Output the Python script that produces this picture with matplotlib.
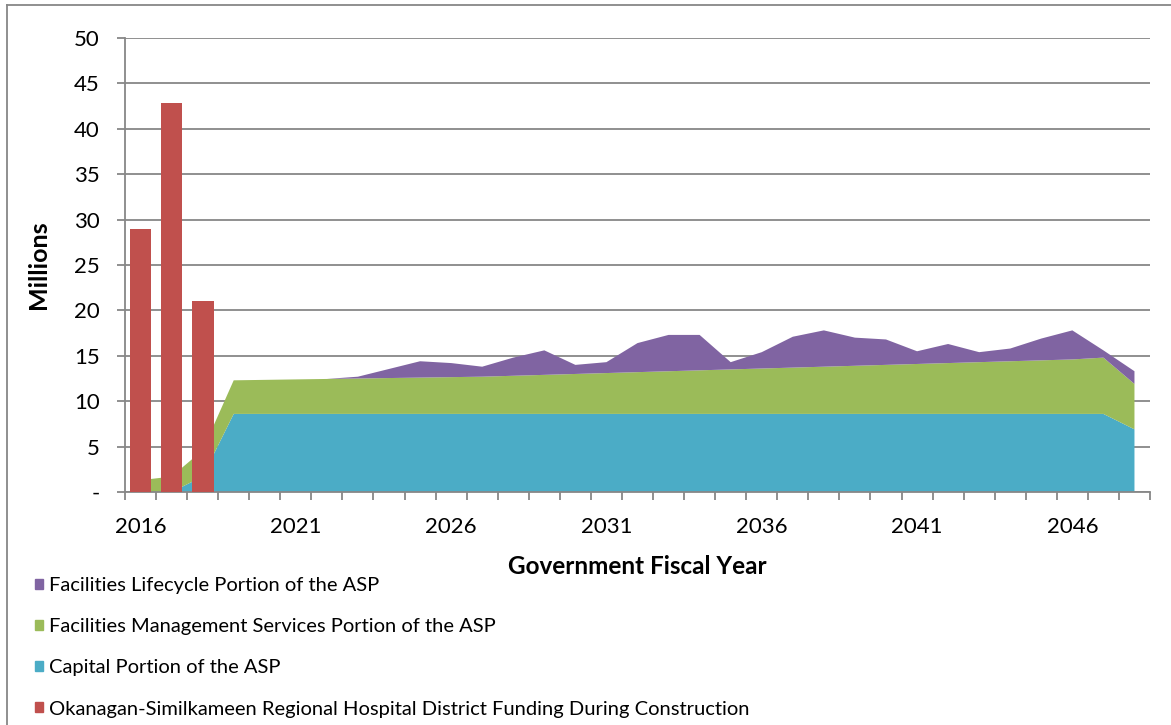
import matplotlib
matplotlib.use("Agg")
import matplotlib.pyplot as plt
from matplotlib.patches import Patch
from matplotlib.lines import Line2D
from matplotlib.ticker import FuncFormatter

plt.rcParams['font.family'] = ['Lato', 'DejaVu Sans']

# fiscal years on the category axis
years = list(range(2016, 2049))

# stacked ASP components (millions)
capital = [0, 0, 1.7, 8.6, 8.6, 8.6, 8.6, 8.6, 8.6, 8.6, 8.6,
           8.6, 8.6, 8.6, 8.6, 8.6, 8.6, 8.6, 8.6, 8.6, 8.6, 8.6,
           8.6, 8.6, 8.6, 8.6, 8.6, 8.6, 8.6, 8.6, 8.6, 8.6, 6.9]
fm_services = [1.3, 1.7, 2.9, 3.7, 3.75, 3.8, 3.85, 3.9, 3.95, 4.0, 4.05,
               4.1, 4.2, 4.3, 4.4, 4.5, 4.6, 4.7, 4.8, 4.9, 5.0, 5.1,
               5.2, 5.3, 5.4, 5.5, 5.6, 5.7, 5.8, 5.9, 6.0, 6.2, 5.0]
lifecycle = [0, 0, 0, 0, 0, 0, 0, 0.2, 1.0, 1.8, 1.55,
             1.1, 2.0, 2.7, 1.0, 1.2, 3.2, 4.0, 3.9, 0.8, 1.8, 3.4,
             4.0, 3.1, 2.8, 1.4, 2.1, 1.1, 1.4, 2.4, 3.2, 0.8, 1.4]

# regional hospital district funding during construction
rhd_years = [2016, 2017, 2018]
rhd_funding = [29.0, 42.8, 21.0]

labels = ["Facilities Lifecycle Portion of the ASP",
          "Facilities Management Services Portion of the ASP",
          "Capital Portion of the ASP",
          "Okanagan-Similkameen Regional Hospital District Funding During Construction"]

c_red = "#C0504D"
c_blue = "#4BACC6"
c_green = "#9BBB59"
c_purple = "#8064A2"
c_grey = "#878787"

W, H = 1171, 725
fig = plt.figure(figsize=(W / 100, H / 100), dpi=100)
ax = fig.add_axes([125 / W, 1 - 492 / H, 1025 / W, 454 / H])

x = list(range(len(years)))
ax.stackplot(x, capital, fm_services, lifecycle,
             colors=[c_blue, c_green, c_purple], lw=0, zorder=2)
bx = [years.index(y) for y in rhd_years]
ax.bar(bx, rhd_funding, width=0.7, color=c_red, zorder=3)

ax.set_xlim(-0.5, len(years) - 0.5)
ax.set_ylim(0, 50)
ax.set_yticks(range(0, 51, 5))
ax.yaxis.set_major_formatter(FuncFormatter(lambda v, p: "-" if v == 0 else f"{v:.0f}"))
ax.grid(axis="y", color=c_grey, lw=1.3, zorder=1)
ax.set_axisbelow(True)

# labels every 5 years at category centres, tick marks at category boundaries
lab_idx = [i for i, y in enumerate(years) if (y - 2016) % 5 == 0]
ax.set_xticks(lab_idx)
ax.set_xticklabels([str(years[i]) for i in lab_idx])
ax.set_xticks([i - 0.5 for i in range(len(years) + 1)], minor=True)
ax.tick_params(axis="x", which="major", length=0, labelsize=16, pad=18)
ax.tick_params(axis="x", which="minor", length=6, color=c_grey, width=1.3)
ax.tick_params(axis="y", length=6, color=c_grey, width=1.3, labelsize=16, pad=12)

for s in ["top", "right"]:
    ax.spines[s].set_visible(False)
for s in ["left", "bottom"]:
    ax.spines[s].set_color(c_grey)
    ax.spines[s].set_linewidth(1.3)

ax.set_ylabel("Millions", fontsize=18, fontweight="bold")
ax.yaxis.set_label_coords(-(125 - 50) / 1025, 0.5)
fig.text(637 / W, 1 - 567 / H, "Government Fiscal Year", fontsize=17.5,
         fontweight="bold", ha="center", va="center")

handles = [Patch(color=c_purple), Patch(color=c_green),
           Patch(color=c_blue), Patch(color=c_red)]
fig.legend(handles, labels, loc="upper left", bbox_to_anchor=(27 / W, 1 - 569 / H),
           frameon=False, fontsize=14.5, handlelength=0.4, handleheight=0.4,
           handletextpad=0.3, labelspacing=1.2, borderaxespad=0)

# outer chart border
fig.add_artist(Line2D([7 / W, 7 / W], [0, 1 - 5 / H], color=c_grey, lw=1.3))
fig.add_artist(Line2D([7 / W, 1], [1 - 5 / H, 1 - 5 / H], color=c_grey, lw=1.3))

fig.savefig("out.png", dpi=100)
